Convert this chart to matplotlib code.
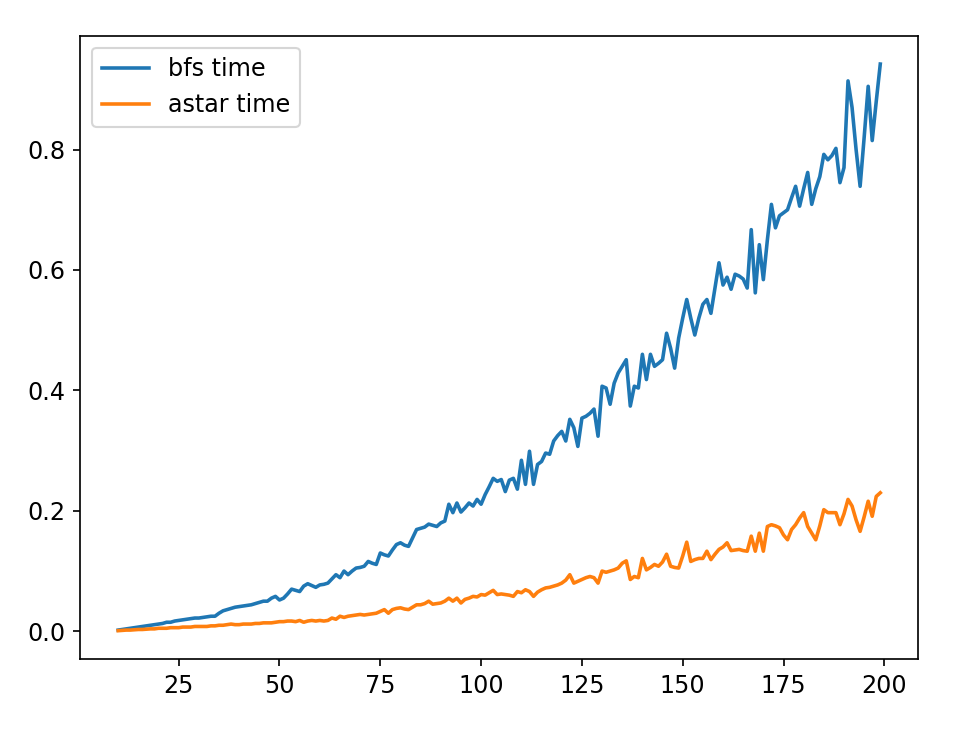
#Import the Libraries
import numpy as np
import matplotlib
matplotlib.use("Agg")
import matplotlib.pyplot as plt

#Grid sizes that were timed
sizes = list(range(10, 200))

#bfs time per grid size
bfs_time = [
    0.002, 0.003, 0.004, 0.005, 0.006, 0.007, 0.008, 0.009, 0.010, 0.011,
    0.012, 0.013, 0.015, 0.015, 0.017, 0.018, 0.019, 0.020, 0.021, 0.022,
    0.022, 0.023, 0.024, 0.025, 0.025, 0.030, 0.034, 0.036, 0.038, 0.040,
    0.041, 0.042, 0.043, 0.044, 0.046, 0.048, 0.050, 0.050, 0.055, 0.058,
    0.052, 0.055, 0.062, 0.070, 0.068, 0.066, 0.075, 0.079, 0.076, 0.073,
    0.077, 0.078, 0.080, 0.087, 0.094, 0.089, 0.100, 0.094, 0.100, 0.105,
    0.106, 0.108, 0.116, 0.113, 0.111, 0.130, 0.127, 0.125, 0.135, 0.144,
    0.147, 0.143, 0.141, 0.155, 0.169, 0.171, 0.173, 0.178, 0.176, 0.174,
    0.180, 0.183, 0.211, 0.197, 0.213, 0.198, 0.205, 0.213, 0.208, 0.219,
    0.211, 0.227, 0.240, 0.254, 0.249, 0.252, 0.232, 0.251, 0.254, 0.236,
    0.284, 0.244, 0.299, 0.244, 0.277, 0.282, 0.296, 0.294, 0.316, 0.325,
    0.332, 0.316, 0.352, 0.338, 0.307, 0.354, 0.357, 0.362, 0.369, 0.324,
    0.407, 0.404, 0.377, 0.412, 0.429, 0.440, 0.451, 0.374, 0.407, 0.404,
    0.460, 0.418, 0.460, 0.440, 0.445, 0.451, 0.495, 0.470, 0.437, 0.487,
    0.520, 0.551, 0.520, 0.492, 0.520, 0.543, 0.551, 0.528, 0.570, 0.612,
    0.575, 0.588, 0.568, 0.593, 0.590, 0.585, 0.570, 0.667, 0.562, 0.642,
    0.584, 0.650, 0.709, 0.670, 0.690, 0.695, 0.700, 0.720, 0.739, 0.706,
    0.735, 0.762, 0.709, 0.735, 0.755, 0.792, 0.783, 0.790, 0.802, 0.745,
    0.770, 0.914, 0.870, 0.800, 0.739, 0.820, 0.905, 0.815, 0.880, 0.942,
]

#astar time per grid size
astar_time = [
    0.001, 0.0015, 0.002, 0.002, 0.0025, 0.003, 0.003, 0.0035, 0.004, 0.004,
    0.005, 0.005, 0.005, 0.006, 0.006, 0.006, 0.007, 0.007, 0.007, 0.008,
    0.008, 0.008, 0.008, 0.009, 0.009, 0.010, 0.010, 0.011, 0.012, 0.011,
    0.011, 0.012, 0.012, 0.012, 0.013, 0.013, 0.014, 0.014, 0.014, 0.015,
    0.016, 0.016, 0.017, 0.017, 0.016, 0.018, 0.015, 0.017, 0.018, 0.017,
    0.018, 0.017, 0.018, 0.022, 0.020, 0.025, 0.023, 0.025, 0.026, 0.027,
    0.028, 0.027, 0.028, 0.029, 0.030, 0.033, 0.036, 0.030, 0.036, 0.038,
    0.039, 0.037, 0.036, 0.040, 0.044, 0.044, 0.046, 0.050, 0.045, 0.046,
    0.047, 0.050, 0.055, 0.050, 0.055, 0.047, 0.053, 0.055, 0.058, 0.057,
    0.061, 0.060, 0.064, 0.068, 0.061, 0.062, 0.061, 0.060, 0.058, 0.066,
    0.064, 0.069, 0.066, 0.058, 0.065, 0.069, 0.072, 0.073, 0.075, 0.077,
    0.080, 0.085, 0.094, 0.080, 0.083, 0.086, 0.089, 0.091, 0.089, 0.080,
    0.100, 0.098, 0.100, 0.102, 0.105, 0.113, 0.117, 0.086, 0.091, 0.089,
    0.121, 0.102, 0.106, 0.111, 0.108, 0.115, 0.128, 0.108, 0.106, 0.105,
    0.125, 0.148, 0.116, 0.119, 0.121, 0.121, 0.133, 0.119, 0.128, 0.136,
    0.140, 0.147, 0.134, 0.135, 0.136, 0.134, 0.133, 0.158, 0.133, 0.163,
    0.133, 0.174, 0.177, 0.175, 0.172, 0.160, 0.152, 0.169, 0.177, 0.188,
    0.197, 0.174, 0.163, 0.152, 0.175, 0.202, 0.197, 0.197, 0.197, 0.177,
    0.195, 0.219, 0.208, 0.185, 0.166, 0.190, 0.216, 0.191, 0.224, 0.230,
]

plt.rcParams["font.size"] = 11.3
plt.rcParams["lines.linewidth"] = 1.7

#Plot the output
fig = plt.figure(figsize=(977 / 152, 729 / 152), dpi=152)
ax = fig.add_axes([0.082, 0.096, 0.858, 0.855])
ax.plot(sizes, bfs_time, label="bfs time")
ax.plot(sizes, astar_time, label="astar time")
ax.legend(loc="upper left")
fig.savefig("out.png", dpi=152)
